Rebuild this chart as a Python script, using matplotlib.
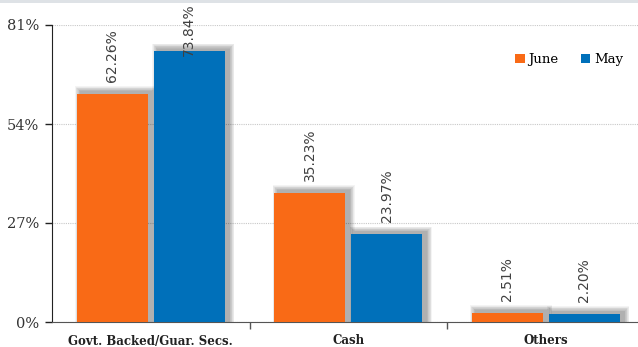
import matplotlib
matplotlib.use("Agg")
import matplotlib.pyplot as plt
from matplotlib.patches import Rectangle
import numpy as np

categories = ["Govt. Backed/Guar. Secs.", "Cash", "Others"]
june = [62.26, 35.23, 2.51]
may = [73.84, 23.97, 2.20]
series_names = ["June", "May"]
yticks = [0, 27, 54, 81]

ORANGE = "#F96A16"
BLUE = "#0070BA"
W, H = 638, 347

fig = plt.figure(figsize=(W / 100, H / 100), dpi=100)
# thin grey band along the top edge
fig.patches.append(Rectangle((0, 1 - 3 / H), 1, 3 / H, transform=fig.transFigure,
                             facecolor="#DEE2E6", edgecolor="none"))

left_px, right_px, top_px, bot_px = 52, 644.5, 25, 322
ax = fig.add_axes([left_px / W, 1 - bot_px / H, (right_px - left_px) / W, (bot_px - top_px) / H])
ax.set_xlim(0, 3)
ax.set_ylim(0, 81)

x = np.arange(len(categories)) + 0.5
bw = 0.36
gap = 0.03
px_x = 3 / (right_px - left_px)   # data units per pixel horizontally
px_y = 81 / (bot_px - top_px)     # data units per pixel vertically

def shadow(x0, h):
    # soft drop shadow built from stacked translucent rectangles
    n = 8
    for k in range(n, 0, -1):
        g = k * 0.7
        sx = x0 + 4 * px_x - g * px_x
        sw = bw + 2 * g * px_x
        sh = h + 2.0 * px_y + g * px_y
        ax.add_patch(Rectangle((sx, 0), sw, sh, facecolor="black", alpha=0.045,
                               edgecolor="none", zorder=1.5, clip_on=False))

xo = x - gap / 2 - bw / 2
xb = x + gap / 2 + bw / 2
for xi, v in zip(xo, june):
    shadow(xi - bw / 2, v)
for xi, v in zip(xb, may):
    shadow(xi - bw / 2, v)

ax.bar(xo, june, width=bw, color=ORANGE, zorder=3, label=series_names[0])
ax.bar(xb, may, width=bw, color=BLUE, zorder=3, label=series_names[1])

# rotated value labels above each bar, kept inside the figure
cap = 72.5
for xs, vals in ((xo, june), (xb, may)):
    for xi, v in zip(xs, vals):
        ax.text(xi, min(v + 12 * px_y, cap), f"{v:.2f}%", rotation=90, ha="center", va="bottom",
                fontsize=10, color="#404040", family="DejaVu Sans", zorder=5, clip_on=False)

ax.set_yticks(yticks)
ax.set_yticklabels([f"{t}%" for t in yticks], family="DejaVu Serif", fontsize=10.5, color="#333333")
ax.yaxis.grid(True, linestyle=(0, (1, 1)), color="#C8C8C8", linewidth=0.8, zorder=0)
ax.set_axisbelow(True)

ax.set_xticks([1, 2])
ax.set_xticklabels([])
ax.set_xticks(x, minor=True)
ax.set_xticklabels(categories, minor=True, family="DejaVu Serif", fontweight="bold",
                   fontsize=8.5, color="#222222")
ax.tick_params(axis="x", which="minor", length=0, pad=9)
ax.tick_params(axis="x", which="major", length=5, width=1, color="#555555", direction="out")
ax.tick_params(axis="y", length=5, width=1, color="#222222", direction="out", pad=4)

for s in ("top", "right"):
    ax.spines[s].set_visible(False)
ax.spines["left"].set_color("#222222")
ax.spines["bottom"].set_color("#555555")

leg = ax.legend(loc="upper left", bbox_to_anchor=(0.782, 0.905), ncol=2, frameon=False,
                prop={"family": "DejaVu Serif", "size": 9.5}, handlelength=0.7, handleheight=0.7,
                handletextpad=0.3, columnspacing=1.7, borderaxespad=0, borderpad=0)

fig.savefig("out.png", dpi=100)
